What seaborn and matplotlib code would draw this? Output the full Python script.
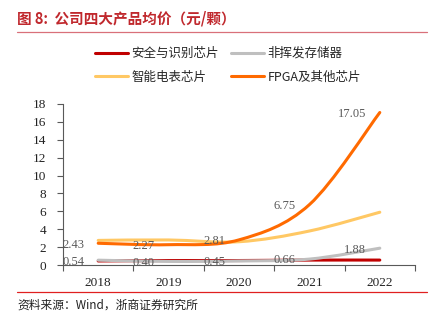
import numpy as np
import pandas as pd
import matplotlib
matplotlib.use("Agg")
import matplotlib.pyplot as plt
from matplotlib.path import Path
from matplotlib.patches import PathPatch
from matplotlib.lines import Line2D
import seaborn as sns

# ---- data ----
years = ["2018", "2019", "2020", "2021", "2022"]
series_names = ["安全与识别芯片", "非挥发存储器", "智能电表芯片", "FPGA及其他芯片"]
security_chip = [0.45, 0.50, 0.50, 0.55, 0.55]
nonvolatile_mem = [0.54, 0.40, 0.45, 0.66, 1.88]
smart_meter = [2.75, 2.80, 2.60, 3.80, 5.90]
fpga_other = [2.43, 2.27, 2.81, 6.75, 17.05]
colors = ["#C00000", "#BFBFBF", "#FFC864", "#FF6A00"]

labelled = [nonvolatile_mem, fpga_other]

sns.set_theme(style="ticks")
plt.rcParams["font.family"] = ["Noto Sans CJK SC", "DejaVu Sans"]
serif = ["Liberation Serif", "DejaVu Serif"]

fig = plt.figure(figsize=(4.48, 3.22), dpi=100)
ax = fig.add_axes([63 / 448, 57 / 322, 352 / 448, 161 / 322])

values = [security_chip, nonvolatile_mem, smart_meter, fpga_other]
df = pd.DataFrame({
    "x": np.tile(np.arange(len(years)), len(series_names)),
    "value": np.concatenate(values),
    "series": np.repeat(series_names, len(years)),
})
sns.lineplot(data=df, x="x", y="value", hue="series", hue_order=series_names,
             palette=colors, linewidth=2.2, ax=ax, legend=False)


def smooth_path(x, y):
    """Bezier path through the points, Catmull-Rom style control points."""
    x = np.asarray(x, float)
    y = np.asarray(y, float)
    px = np.concatenate([[x[0]], x, [x[-1]]])
    py = np.concatenate([[y[0]], y, [y[-1]]])
    verts = [(x[0], y[0])]
    codes = [Path.MOVETO]
    for j in range(1, len(x)):
        c1 = (px[j] + (px[j + 1] - px[j - 1]) / 6, py[j] + (py[j + 1] - py[j - 1]) / 6)
        c2 = (px[j + 1] - (px[j + 2] - px[j]) / 6, py[j + 1] - (py[j + 2] - py[j]) / 6)
        verts += [c1, c2, (px[j + 1], py[j + 1])]
        codes += [Path.CURVE4] * 3
    return Path(verts, codes)


# replace the straight seaborn segments with smoothed curves
lines = list(ax.lines)
handles = []
for k, ln in enumerate(lines):
    patch = PathPatch(smooth_path(ln.get_xdata(), ln.get_ydata()), facecolor="none",
                      edgecolor=ln.get_color(), linewidth=2.2, capstyle="round",
                      zorder=2 + k)
    ax.add_patch(patch)
    handles.append(Line2D([], [], color=ln.get_color(), linewidth=2.2))
for ln in lines:
    ln.remove()

# value labels, placed left of each point
for vals in labelled:
    for i, v in enumerate(vals):
        ax.annotate(f"{v:.2f}", xy=(i, v - 0.15), xytext=(-10, 0),
                    textcoords="offset points", ha="right", va="center",
                    fontsize=9, color="#595959", family=serif, zorder=10)

ax.set_xlim(-0.5, 4.5)
ax.set_ylim(0, 18)
ax.set_yticks(np.arange(0, 19, 2))
ax.set_xticks(range(len(years)))
ax.set_xticklabels(years)
ax.set_xticks(np.arange(-0.5, 5, 1), minor=True)
ax.tick_params(axis="x", which="major", length=0, pad=9)
ax.tick_params(axis="x", which="minor", length=4, color="#595959", width=0.8)
ax.tick_params(axis="y", length=4, color="#595959", width=0.8, pad=8)
for lab in ax.get_xticklabels() + ax.get_yticklabels():
    lab.set_family(serif)
    lab.set_fontsize(9.5)
    lab.set_color("#222222")
ax.set_xlabel("")
ax.set_ylabel("")
for s in ["top", "right"]:
    ax.spines[s].set_visible(False)
for s in ["left", "bottom"]:
    ax.spines[s].set_color("#595959")
    ax.spines[s].set_linewidth(0.8)

# legend in two rows: (security, nonvolatile) / (smart meter, FPGA)
order = [0, 2, 1, 3]
fig.legend(handles=[handles[i] for i in order], labels=[series_names[i] for i in order],
           loc="upper left", bbox_to_anchor=(95 / 448, 1 - 47 / 322), ncol=2,
           frameon=False, fontsize=9, handlelength=2.6, handletextpad=0.3,
           columnspacing=1.0, labelspacing=0.85, borderpad=0, borderaxespad=0)

# title, rules and source note
fig.text(17 / 448, 1 - 18 / 322, "图 8:  公司四大产品均价（元/颗）", fontsize=10.5,
         fontweight="bold", color="#C0282D", va="center", ha="left")
fig.add_artist(Line2D([17 / 448, 427 / 448], [1 - 32 / 322] * 2,
                      color="#D9707A", linewidth=0.9))
fig.add_artist(Line2D([17 / 448, 427 / 448], [1 - 292 / 322] * 2,
                      color="#E02020", linewidth=0.9))
fig.text(17 / 448, 1 - 305 / 322, "资料来源：Wind，浙商证券研究所", fontsize=8.5,
         color="#222222", va="center", ha="left")

fig.savefig("out.png", dpi=100)
